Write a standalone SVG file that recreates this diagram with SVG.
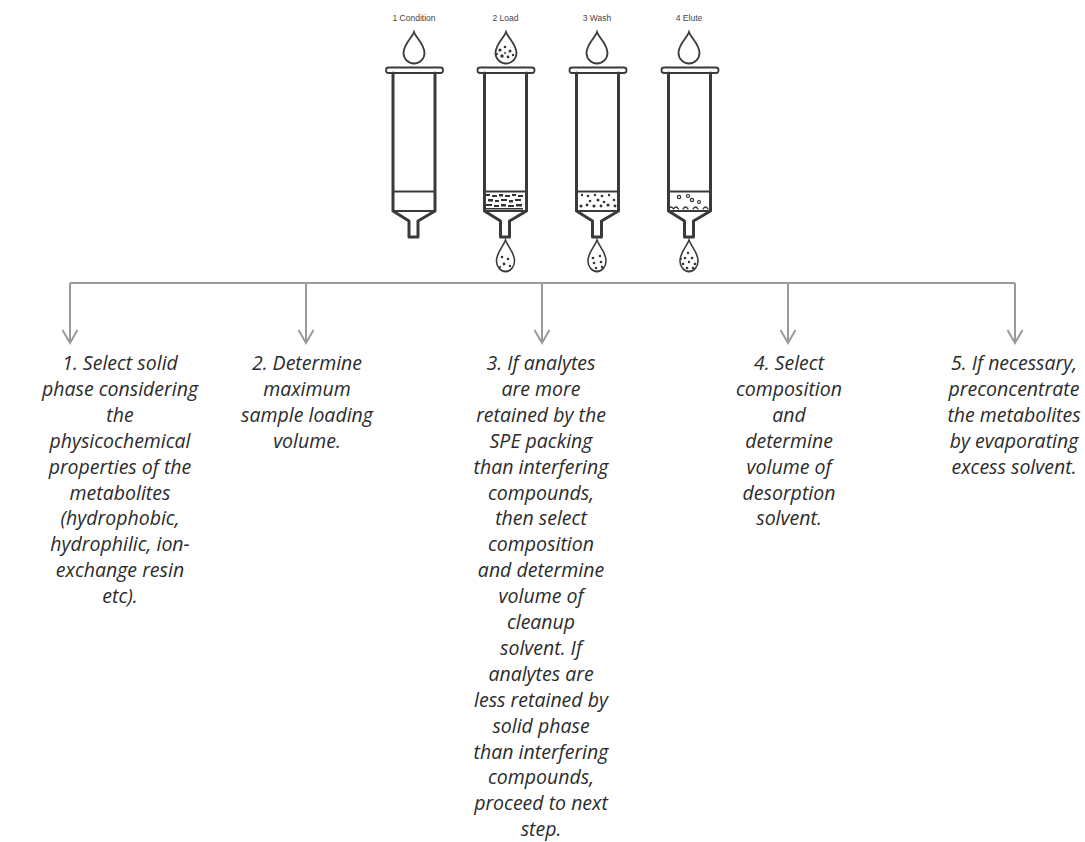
<svg xmlns="http://www.w3.org/2000/svg" xmlns:xlink="http://www.w3.org/1999/xlink" width="1085" height="842" viewBox="0 0 1085 842">
  <style>
    .ink { fill: none; stroke: #3a3a3a; stroke-linejoin: round; stroke-linecap: round; }
    .wall { stroke-width: 3; }
    .thin { stroke-width: 1.8; }
    .drop { fill: #ffffff; stroke: #3a3a3a; stroke-width: 1.8; }
    .dot { fill: #333333; }
    .ring { fill: none; stroke: #333333; stroke-width: 1.2; }
    .step-label { font-family: "Liberation Sans", Arial, sans-serif; font-size: 8.5px; fill: #444444; text-anchor: middle; }
    .note { font-family: "Open Sans", "Noto Sans", sans-serif; font-style: italic; font-size: 19.5px; fill: #2b2b2b; text-anchor: middle; }
    .conn { fill: none; stroke: #9a9a9a; stroke-width: 2; }
  </style>
  <defs>
    <!-- open V arrowhead for the grey connectors -->
    <marker id="arrow" viewBox="-15 -9 17 18" refX="0" refY="0" markerWidth="17" markerHeight="18" markerUnits="userSpaceOnUse" orient="auto">
      <path d="M-13,-7.5 L0,0 L-13,7.5" fill="none" stroke="#9a9a9a" stroke-width="2"/>
    </marker>
    <!-- SPE cartridge body, centred on x = 0 -->
    <g id="cartridge">
      <rect x="-28" y="67.5" width="57" height="5.5" rx="2.5" class="ink thin"/>
      <path d="M-21,73 V211 L-5,221 V237 H4 V221 L21,211 V73" class="ink wall"/>
      <path d="M-21,211 H21" class="ink thin"/>
      <path d="M-21,191.5 H21" class="ink thin"/>
    </g>
    <!-- falling drop, tip at origin -->
    <path id="droplet" d="M0,0 C2,6 10.5,12 10.5,21 A10.5,10.5 0 0 1 -10.5,21 C-10.5,12 -2,6 0,0 Z"/>
  </defs>

  <!-- step 1: condition -->
  <g id="step-condition">
    <text class="step-label" x="414" y="21">1 Condition</text>
    <use xlink:href="#droplet" class="drop" transform="translate(414,32)"/>
    <use xlink:href="#cartridge" transform="translate(414,0)"/>
  </g>

  <!-- step 2: load -->
  <g id="step-load">
    <text class="step-label" x="505.5" y="21">2 Load</text>
    <use xlink:href="#droplet" class="drop" transform="translate(506,32)"/>
    <g class="dot">
      <circle cx="500" cy="50" r="1.6"/><circle cx="505" cy="47" r="1.3"/><circle cx="510" cy="51" r="1.5"/>
      <circle cx="502" cy="56" r="1.7"/><circle cx="508" cy="57" r="1.4"/><circle cx="513" cy="55" r="1.2"/>
      <circle cx="497" cy="54" r="1.1"/><circle cx="505" cy="53" r="1"/>
    </g>
    <use xlink:href="#cartridge" transform="translate(505.5,0)"/>
    <g class="dot">
      <rect x="486" y="194" width="4" height="2" /><rect x="492" y="195" width="5" height="2"/><rect x="499" y="194" width="4" height="2.5"/>
      <rect x="505" y="195" width="5" height="2"/><rect x="512" y="194" width="4" height="2"/><rect x="518" y="195" width="5" height="2"/>
      <rect x="488" y="199" width="5" height="2.5"/><rect x="495" y="200" width="4" height="2"/><rect x="501" y="199" width="6" height="2"/>
      <rect x="509" y="200" width="4" height="2.5"/><rect x="515" y="199" width="6" height="2"/>
      <rect x="486" y="204" width="6" height="2"/><rect x="494" y="205" width="5" height="2"/><rect x="501" y="204" width="5" height="2.5"/>
      <rect x="508" y="205" width="6" height="2"/><rect x="516" y="204" width="6" height="2.5"/>
      <rect x="486" y="208" width="37" height="1.5"/>
    </g>
    <use xlink:href="#droplet" class="drop" transform="translate(505.5,240) scale(0.86,1)"/>
    <g class="dot">
      <circle cx="502" cy="257" r="1.3"/><circle cx="508" cy="259" r="1.3"/><circle cx="504" cy="264" r="1.4"/>
      <circle cx="510" cy="266" r="1.2"/><circle cx="500" cy="267" r="1.1"/>
    </g>
  </g>

  <!-- step 3: wash -->
  <g id="step-wash">
    <text class="step-label" x="597" y="21">3 Wash</text>
    <use xlink:href="#droplet" class="drop" transform="translate(597,32)"/>
    <use xlink:href="#cartridge" transform="translate(597.5,0)"/>
    <g class="dot">
      <circle cx="582" cy="195" r="1.2"/><circle cx="588" cy="196" r="1.3"/><circle cx="595" cy="195" r="1.2"/>
      <circle cx="602" cy="196" r="1.3"/><circle cx="609" cy="195" r="1.2"/><circle cx="614" cy="200" r="1.3"/>
      <circle cx="590" cy="201" r="1.3"/><circle cx="598" cy="200" r="1.5"/><circle cx="604" cy="202" r="1.3"/>
      <circle cx="581" cy="206" r="1.6"/><circle cx="587" cy="205" r="1.4"/><circle cx="594" cy="206" r="1.6"/>
      <circle cx="601" cy="206" r="1.4"/><circle cx="608" cy="205" r="1.6"/><circle cx="615" cy="206" r="1.4"/>
    </g>
    <use xlink:href="#droplet" class="drop" transform="translate(597,240) scale(0.86,1)"/>
    <g class="dot">
      <circle cx="593" cy="258" r="1.3"/><circle cx="600" cy="256" r="1.2"/><circle cx="594" cy="263" r="1.3"/>
      <circle cx="601" cy="262" r="1.3"/><circle cx="596" cy="268" r="1.2"/><circle cx="602" cy="267" r="1.2"/>
    </g>
  </g>

  <!-- step 4: elute -->
  <g id="step-elute">
    <text class="step-label" x="689" y="21">4 Elute</text>
    <use xlink:href="#droplet" class="drop" transform="translate(689,32)"/>
    <use xlink:href="#cartridge" transform="translate(689.5,0)"/>
    <g class="ring">
      <circle cx="679" cy="197" r="1.7"/><circle cx="688" cy="196" r="1.5"/><circle cx="692" cy="200" r="1.6"/>
      <circle cx="699" cy="202" r="1.5"/>
    </g>
    <path d="M668.5,209 q2.5,-4 5,0 q2.5,-4 5,0 M683,209 q2.5,-4 5,0 M693,209 q2.5,-4 5,0 M703,209 q2.5,-4 5,0" class="ink" stroke-width="1.3"/>
    <use xlink:href="#droplet" class="drop" transform="translate(689,240) scale(0.86,1)"/>
    <g class="dot">
      <circle cx="688" cy="253" r="1.2"/><circle cx="685" cy="258" r="1.3"/><circle cx="692" cy="258" r="1.3"/>
      <circle cx="689" cy="262" r="1.2"/><circle cx="683" cy="264" r="1.3"/><circle cx="695" cy="264" r="1.3"/>
      <circle cx="687" cy="268" r="1.3"/><circle cx="693" cy="268" r="1.2"/><circle cx="681" cy="259" r="1"/>
    </g>
  </g>

  <!-- branching connectors -->
  <g id="connectors">
    <path class="conn" d="M70,283 H1015"/>
    <path class="conn" d="M70,283 V343" marker-end="url(#arrow)"/>
    <path class="conn" d="M306,283 V343" marker-end="url(#arrow)"/>
    <path class="conn" d="M542,283 V343" marker-end="url(#arrow)"/>
    <path class="conn" d="M788,283 V343" marker-end="url(#arrow)"/>
    <path class="conn" d="M1015,283 V343" marker-end="url(#arrow)"/>
  </g>

  <!-- method-development notes -->
  <g id="note-1">
    <text class="note" x="120" y="370">1. Select solid</text>
    <text class="note" x="120" y="395.9">phase considering</text>
    <text class="note" x="120" y="421.8">the</text>
    <text class="note" x="120" y="447.7">physicochemical</text>
    <text class="note" x="120" y="473.6">properties of the</text>
    <text class="note" x="120" y="499.5">metabolites</text>
    <text class="note" x="120" y="525.4">(hydrophobic,</text>
    <text class="note" x="120" y="551.3">hydrophilic, ion-</text>
    <text class="note" x="120" y="577.2">exchange resin</text>
    <text class="note" x="120" y="603.1">etc).</text>
  </g>
  <g id="note-2">
    <text class="note" x="307" y="370">2. Determine</text>
    <text class="note" x="307" y="395.9">maximum</text>
    <text class="note" x="307" y="421.8">sample loading</text>
    <text class="note" x="307" y="447.7">volume.</text>
  </g>
  <g id="note-3">
    <text class="note" x="541" y="370">3. If analytes</text>
    <text class="note" x="541" y="395.9">are more</text>
    <text class="note" x="541" y="421.8">retained by the</text>
    <text class="note" x="541" y="447.7">SPE packing</text>
    <text class="note" x="541" y="473.6">than interfering</text>
    <text class="note" x="541" y="499.5">compounds,</text>
    <text class="note" x="541" y="525.4">then select</text>
    <text class="note" x="541" y="551.3">composition</text>
    <text class="note" x="541" y="577.2">and determine</text>
    <text class="note" x="541" y="603.1">volume of</text>
    <text class="note" x="541" y="629">cleanup</text>
    <text class="note" x="541" y="654.9">solvent. If</text>
    <text class="note" x="541" y="680.8">analytes are</text>
    <text class="note" x="541" y="706.7">less retained by</text>
    <text class="note" x="541" y="732.6">solid phase</text>
    <text class="note" x="541" y="758.5">than interfering</text>
    <text class="note" x="541" y="784.4">compounds,</text>
    <text class="note" x="541" y="810.3">proceed to next</text>
    <text class="note" x="541" y="836.2">step.</text>
  </g>
  <g id="note-4">
    <text class="note" x="789" y="370">4. Select</text>
    <text class="note" x="789" y="395.9">composition</text>
    <text class="note" x="789" y="421.8">and</text>
    <text class="note" x="789" y="447.7">determine</text>
    <text class="note" x="789" y="473.6">volume of</text>
    <text class="note" x="789" y="499.5">desorption</text>
    <text class="note" x="789" y="525.4">solvent.</text>
  </g>
  <g id="note-5">
    <text class="note" x="1014" y="370">5. If necessary,</text>
    <text class="note" x="1014" y="395.9">preconcentrate</text>
    <text class="note" x="1014" y="421.8">the metabolites</text>
    <text class="note" x="1014" y="447.7">by evaporating</text>
    <text class="note" x="1014" y="473.6">excess solvent.</text>
  </g>
</svg>
